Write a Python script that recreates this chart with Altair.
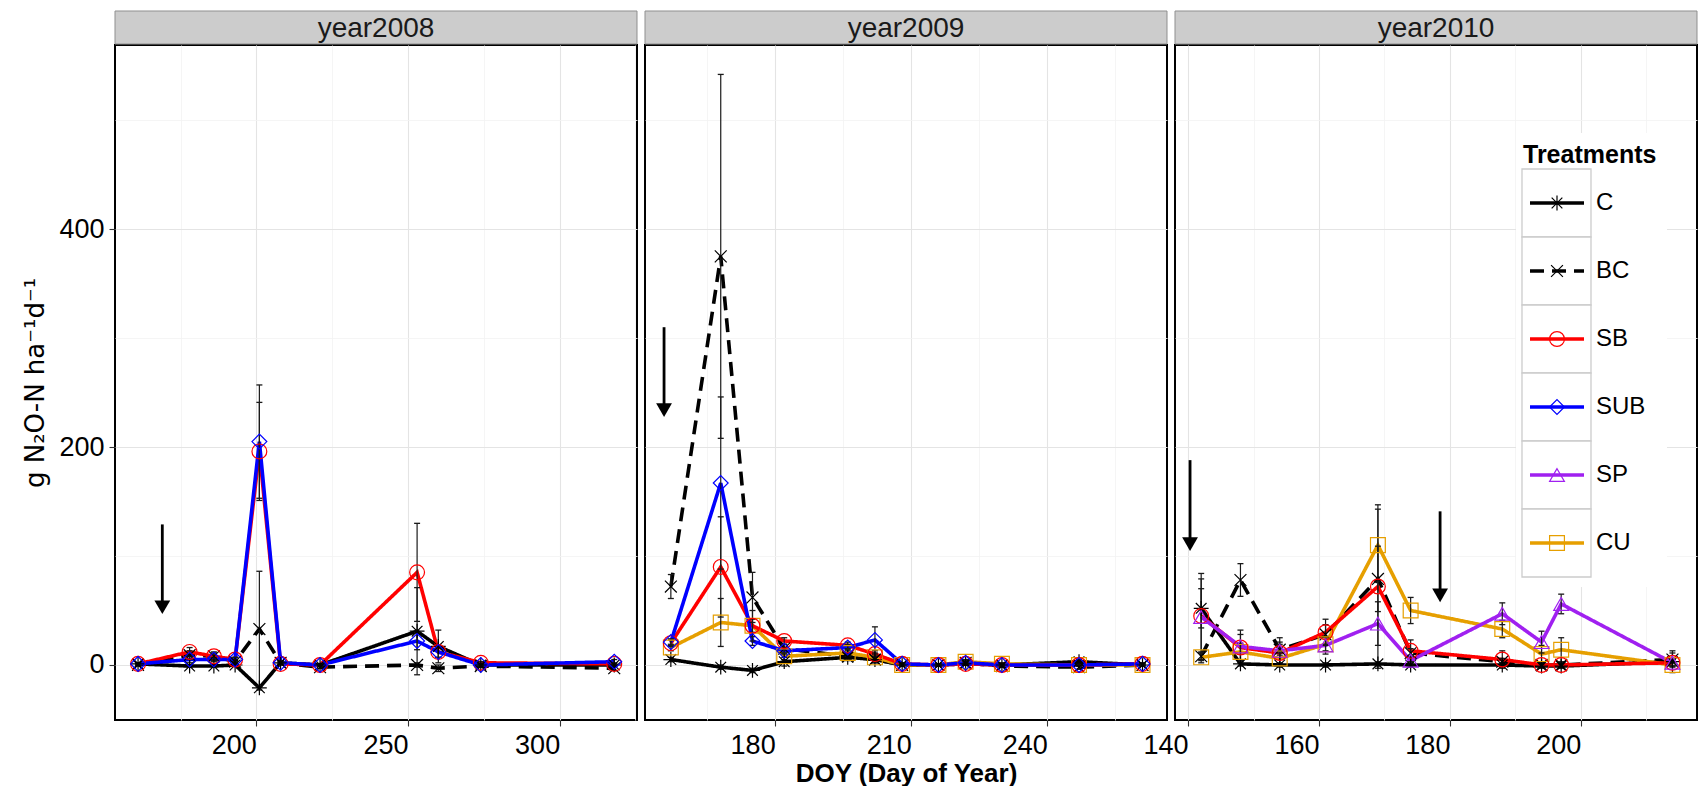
import altair as alt
import pandas as pd

# ---------------- data ----------------
TREATS = ["C", "BC", "SB", "SUB", "SP", "CU"]
DRAW_ORDER = ["C", "BC", "CU", "SB", "SP", "SUB"]
COLORS = ["#000000", "#000000", "#FF0000", "#0000FF", "#A020F0", "#E69F00"]
DASHES = [[1, 0], [14, 8], [1, 0], [1, 0], [1, 0], [1, 0]]
ASTER = "M-1,0L1,0M0,-1L0,1M-0.72,-0.72L0.72,0.72M-0.72,0.72L0.72,-0.72"
XMARK = "M-0.8,-0.8L0.8,0.8M-0.8,0.8L0.8,-0.8"
SHAPES = [ASTER, XMARK, "circle", "diamond", "triangle-up", "square"]
SIZES = [220, 220, 150, 270, 210, 150]

YEARS = ["year2008", "year2009", "year2010"]
YTITLE = "g N\u2082O-N ha\u207b\u00b9d\u207b\u00b9"
XTITLE = "DOY (Day of Year)"

# 2008
doy_2008 = [161, 178, 186, 193, 201, 208, 221, 253, 260, 274, 318]
C_2008 = [1, -1, -1, 0, -21, 2, 0, 31, 17, 0, 0]
BC_2008 = [0, 9, 8, 3, 33, 2, -2, 0, -3, -1, -3]
SB_2008 = [1, 12, 8, 5, 196, 1, 0, 85, 12, 2, 1]
SUB_2008 = [1, 5, 5, 5, 205, 2, 0, 22, 12, 0, 3]
C_err_2008 = [1, 1, 1, 1, 2, 1, 1, 40, 15, 1, 1]
BC_err_2008 = [1, 4, 4, 2, 53, 2, 1, 2, 3, 1, 2]
SB_err_2008 = [1, 4, 3, 2, 45, 1, 1, 45, 5, 1, 1]
SUB_err_2008 = [1, 3, 2, 2, 52, 1, 1, 8, 5, 1, 2]

# 2009
doy_2009 = [157, 168, 175, 182, 196, 202, 208, 216, 222, 230, 247, 261]
C_2009 = [5, -2, -5, 3, 7, 5, 0, 0, 1, 0, 3, 0]
BC_2009 = [72, 375, 62, 15, 8, 5, 0, 0, 2, -1, -2, 0]
SB_2009 = [20, 90, 36, 22, 18, 10, 1, 0, 1, 0, 0, 1]
SUB_2009 = [21, 167, 22, 13, 16, 23, 1, 0, 2, 0, 0, 1]
CU_2009 = [16, 39, 36, 8, 11, 7, 0, 0, 3, 1, 0, 0]
C_err_2009 = [2, 2, 2, 4, 3, 3, 1, 1, 1, 1, 2, 1]
BC_err_2009 = [11, 167, 23, 4, 3, 3, 1, 1, 2, 1, 2, 1]
SB_err_2009 = [3, 46, 6, 3, 3, 3, 1, 1, 1, 1, 1, 1]
SUB_err_2009 = [3, 79, 4, 3, 3, 12, 1, 1, 2, 1, 1, 1]
CU_err_2009 = [3, 22, 14, 3, 3, 3, 1, 1, 2, 1, 1, 1]

# 2010
doy_2010 = [142, 148, 154, 161, 169, 174, 188, 194, 197, 214]
C_2010 = [52, 1, 0, 0, 1, 0, 0, -1, -1, 3]
BC_2010 = [8, 78, 14, 28, 79, 11, 3, 0, 0, 5]
SB_2010 = [45, 16, 11, 30, 72, 13, 5, 0, 0, 2]
SP_2010 = [44, 17, 13, 18, 38, 4, 47, 21, 56, 2]
CU_2010 = [7, 12, 6, 19, 110, 50, 33, 10, 14, 0]
C_err_2010 = [18, 2, 2, 2, 2, 2, 2, 2, 2, 10]
BC_err_2010 = [3, 15, 5, 9, 30, 4, 3, 2, 2, 6]
SB_err_2010 = [34, 12, 10, 12, 75, 10, 8, 2, 2, 3]
SP_err_2010 = [40, 15, 12, 8, 20, 4, 10, 10, 9, 3]
CU_err_2010 = [5, 8, 5, 6, 33, 12, 8, 8, 11, 2]

# fertilisation arrows (DOY, arrow top, arrow tip)
arrow_doy_2008, arrow_top_2008, arrow_tip_2008 = [169], [129], [47]
arrow_doy_2009, arrow_top_2009, arrow_tip_2009 = [155.5], [310], [228]
arrow_doy_2010, arrow_top_2010, arrow_tip_2010 = [140.3, 178.5], [188, 141], [105, 58]

# ---------------- layout ----------------
W, H = 522, 675
YDOM = [-50.5, 569]


def long_df(doys, series, errs):
    rows = []
    for t in DRAW_ORDER:
        if t in series:
            for d, v, e in zip(doys, series[t], errs[t]):
                rows.append({"treatment": t, "doy": d, "value": v, "err": e})
    return pd.DataFrame(rows)


df_2008 = long_df(doy_2008,
                  {"C": C_2008, "BC": BC_2008, "SB": SB_2008, "SUB": SUB_2008},
                  {"C": C_err_2008, "BC": BC_err_2008, "SB": SB_err_2008, "SUB": SUB_err_2008})
df_2009 = long_df(doy_2009,
                  {"C": C_2009, "BC": BC_2009, "SB": SB_2009, "SUB": SUB_2009, "CU": CU_2009},
                  {"C": C_err_2009, "BC": BC_err_2009, "SB": SB_err_2009, "SUB": SUB_err_2009,
                   "CU": CU_err_2009})
df_2010 = long_df(doy_2010,
                  {"C": C_2010, "BC": BC_2010, "SB": SB_2010, "SP": SP_2010, "CU": CU_2010},
                  {"C": C_err_2010, "BC": BC_err_2010, "SB": SB_err_2010, "SP": SP_err_2010,
                   "CU": CU_err_2010})

color_enc = alt.Color("treatment:N", scale=alt.Scale(domain=TREATS, range=COLORS), legend=None)
dash_enc = alt.StrokeDash("treatment:N", scale=alt.Scale(domain=TREATS, range=DASHES), legend=None)
shape_enc = alt.Shape("treatment:N", scale=alt.Scale(domain=TREATS, range=SHAPES), legend=None)
size_enc = alt.Size("treatment:N", scale=alt.Scale(domain=TREATS, range=SIZES), legend=None)

MAJOR_GRID = "#e4e4e4"
MINOR_GRID = "#f2f2f2"
LINE_W = 3.6


def cond(test, a, b):
    return {"condition": {"test": test, "value": a}, "value": b}


def make_panel(label, df, arrows, xdom, xvals, step, show_y, xtitle, legend=False):
    test_x = f"datum.value % {step} === 0"
    xaxis = alt.Axis(
        values=xvals, labelExpr=f"{test_x} ? datum.label : ''",
        labelOverlap=False, labelFlush=False, labelAlign="right", labelPadding=6,
        tickOpacity=cond(test_x, 1, 0),
        gridColor=cond(test_x, MAJOR_GRID, MINOR_GRID),
        gridWidth=cond(test_x, 1.1, 0.8),
        title=xtitle if xtitle else None,
        titleFontSize=26, titleFontWeight="bold", titlePadding=2,
    )
    test_y = "datum.value % 200 === 0"
    if show_y:
        yaxis = alt.Axis(
            values=[0, 100, 200, 300, 400, 500], labelExpr=f"{test_y} ? datum.label : ''",
            labelOverlap=False, labelFlush=False, labelPadding=5,
            tickOpacity=cond(test_y, 1, 0),
            gridColor=cond(test_y, MAJOR_GRID, MINOR_GRID),
            gridWidth=cond(test_y, 1.1, 0.8),
            title=YTITLE, titleFont="DejaVu Sans", titleFontSize=26,
            titleFontWeight="normal", titlePadding=10,
        )
    else:
        yaxis = alt.Axis(
            values=[0, 100, 200, 300, 400, 500], labels=False, ticks=False, title=None,
            gridColor=cond(test_y, MAJOR_GRID, MINOR_GRID),
            gridWidth=cond(test_y, 1.1, 0.8),
        )
    xs = alt.Scale(domain=xdom, nice=False, zero=False)
    ys = alt.Scale(domain=YDOM, nice=False, zero=False)
    X = alt.X("doy:Q", scale=xs, axis=xaxis)

    def Y(f):
        return alt.Y(f, scale=ys, axis=yaxis)

    base = alt.Chart(df)
    lines = base.mark_line(strokeWidth=LINE_W, clip=True).encode(
        x=X, y=Y("value:Q"), color=color_enc, strokeDash=dash_enc)
    eb = base.transform_calculate(lo="datum.value - datum.err", hi="datum.value + datum.err")
    err_rule = eb.mark_rule(color="#1a1a1a", strokeWidth=1.2).encode(
        x=X, y=Y("lo:Q"), y2="hi:Q")
    cap_hi = eb.mark_tick(color="#1a1a1a", orient="horizontal", size=6, thickness=1.3,
                          opacity=1).encode(x=X, y=Y("hi:Q"))
    cap_lo = eb.mark_tick(color="#1a1a1a", orient="horizontal", size=6, thickness=1.3,
                          opacity=1).encode(x=X, y=Y("lo:Q"))
    pts = base.mark_point(filled=False, opacity=1, strokeWidth=1.2).encode(
        x=X, y=Y("value:Q"), color=color_enc, shape=shape_enc, size=size_enc)

    adf = pd.DataFrame({"doy": arrows[0], "top": arrows[1], "tip": arrows[2]})
    shaft = alt.Chart(adf).mark_rule(color="black", strokeWidth=2.8, y2Offset=-8).encode(
        x=X, y=Y("top:Q"), y2="tip:Q")
    head = alt.Chart(adf).mark_point(shape="triangle-down", filled=True, color="black",
                                     size=250, opacity=1, yOffset=-6.5).encode(
        x=X, y=Y("tip:Q"))

    sdata = alt.Data(values=[{"label": label}])
    strip = alt.Chart(sdata).mark_rect(fill="#cccccc", stroke="#8f8f8f", strokeWidth=1).encode(
        x=alt.value(0), x2=alt.value(W), y=alt.value(-34), y2=alt.value(-1))
    strip_text = alt.Chart(sdata).mark_text(fontSize=28, color="#1a1a1a", baseline="middle",
                                            dy=1).encode(
        x=alt.value(W / 2), y=alt.value(-17), text="label:N")

    layers = alt.layer(lines, err_rule, cap_hi, cap_lo, pts, shaft, head, strip, strip_text)

    if legend:
        ldf = pd.DataFrame({"treatment": TREATS})
        band = alt.Scale(type="band", domain=TREATS, range=[124, 532],
                         paddingInner=0, paddingOuter=0)
        LY = alt.Y("treatment:N", scale=band, axis=None)
        LYc = alt.Y("treatment:N", scale=band, axis=None, bandPosition=0.5)
        tdata = alt.Data(values=[{"title": "Treatments"}])
        lbg = alt.Chart(tdata).mark_rect(fill="white").encode(
            x=alt.value(341), x2=alt.value(492), y=alt.value(88), y2=alt.value(542))
        ltitle = alt.Chart(tdata).mark_text(align="left", baseline="middle", fontSize=25,
                                            fontWeight="bold").encode(
            x=alt.value(348), y=alt.value(110), text="title:N")
        lkeys = alt.Chart(ldf).mark_rect(fill="white", stroke="#cccccc", strokeWidth=1.3).encode(
            x=alt.value(347), x2=alt.value(416), y=LY)
        llines = alt.Chart(ldf).mark_rule(strokeWidth=LINE_W).encode(
            x=alt.value(355), x2=alt.value(409), y=LYc, color=color_enc, strokeDash=dash_enc)
        lpts = alt.Chart(ldf).mark_point(filled=False, opacity=1, strokeWidth=1.2).encode(
            x=alt.value(382), y=LYc, color=color_enc, shape=shape_enc, size=size_enc)
        llabels = alt.Chart(ldf).mark_text(align="left", baseline="middle", fontSize=24,
                                           color="black").encode(
            x=alt.value(421), y=LYc, text="treatment:N")
        leg = alt.layer(lbg, ltitle, lkeys, llines, lpts, llabels)
        layers = alt.layer(layers, leg).resolve_scale(y="independent")

    return layers.properties(width=W, height=H)


p1 = make_panel(YEARS[0], df_2008, (arrow_doy_2008, arrow_top_2008, arrow_tip_2008),
                [153.4, 325.5], [175, 200, 225, 250, 275, 300, 325], 50, True, None)
p2 = make_panel(YEARS[1], df_2009, (arrow_doy_2009, arrow_top_2009, arrow_tip_2009),
                [151.3, 266.4], [165, 180, 195, 210, 225, 240, 255], 30, False, XTITLE)
p3 = make_panel(YEARS[2], df_2010, (arrow_doy_2010, arrow_top_2010, arrow_tip_2010),
                [138.0, 217.75], [140, 150, 160, 170, 180, 190, 200, 210], 20, False, None,
                legend=True)

chart = alt.hconcat(p1, p2, p3, spacing=8, bounds="flush").properties(
    padding={"left": 21, "top": 9, "right": 0, "bottom": 0},
    background="white",
).configure_view(
    stroke="black", strokeWidth=2
).configure_axis(
    labelFont="Liberation Sans", labelFontSize=27, labelColor="black",
    titleFont="Liberation Sans", titleColor="black",
    tickColor="#333333", tickWidth=1.1, tickSize=6, domain=False,
).configure_text(
    font="Liberation Sans"
)

chart.save("out.html", embed_options={"renderer": "svg", "actions": False})
